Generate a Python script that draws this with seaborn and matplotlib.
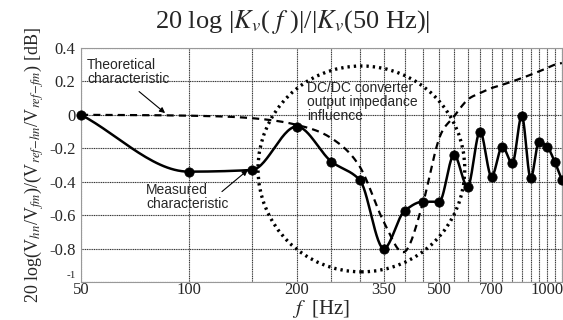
import numpy as np
import seaborn as sns
import matplotlib.pyplot as plt
import matplotlib.transforms as mtransforms
from matplotlib.patches import Ellipse

sns.set_style("white")
plt.rcParams["font.family"] = ["Liberation Serif", "DejaVu Serif"]
plt.rcParams["mathtext.fontset"] = "stix"
SERIF = ["Liberation Serif", "DejaVu Serif"]

# harmonic frequencies [Hz]
freq = [50, 100, 150, 200, 250, 300, 350, 400, 450, 500, 550, 600, 650, 700,
        750, 800, 850, 900, 950, 1000, 1050, 1100]
measured = [0, -0.34, -0.33, -0.07, -0.28, -0.39, -0.80, -0.575, -0.52, -0.52,
            -0.24, -0.43, -0.10, -0.37, -0.19, -0.29, -0.005, -0.38, -0.16,
            -0.19, -0.28, -0.39]
theoretical = [0, -0.005, -0.02, -0.06, -0.14, -0.31, -0.64, -0.82, -0.53,
               -0.14, -0.01, 0.09, 0.13, 0.16, 0.18, 0.20, 0.22, 0.24, 0.26,
               0.28, 0.30, 0.31]
grid_freq = list(range(50, 1101, 50))
xtick_labels = {50: "50", 100: "100", 200: "200", 350: "350", 500: "500",
                700: "700", 1000: "1000"}
yticks = [-1, -0.8, -0.6, -0.4, -0.2, 0, 0.2, 0.4]
ytick_labels = ["-1", "-0.8", "-0.6", "-0.4", "-0.2", "0", "0.2", "0.4"]


def smooth(x, y, n=30, monotone=False):
    # cubic hermite in log-x (catmull-rom slopes, or pchip-style slopes)
    lx = np.log(np.asarray(x, float))
    y = np.asarray(y, float)
    h = np.diff(lx)
    d = np.diff(y) / h
    m = np.zeros_like(y)
    if monotone:
        for i in range(1, len(y) - 1):
            if d[i - 1] * d[i] > 0:
                w1 = 2 * h[i] + h[i - 1]
                w2 = h[i] + 2 * h[i - 1]
                m[i] = (w1 + w2) / (w1 / d[i - 1] + w2 / d[i])
    else:
        m[1:-1] = (y[2:] - y[:-2]) / (lx[2:] - lx[:-2])
    m[0], m[-1] = d[0], d[-1]
    xs, ys = [], []
    t = np.linspace(0, 1, n, endpoint=False)
    for i in range(len(y) - 1):
        h00 = 2 * t**3 - 3 * t**2 + 1
        h10 = t**3 - 2 * t**2 + t
        h01 = -2 * t**3 + 3 * t**2
        h11 = t**3 - t**2
        xs.append(lx[i] + t * h[i])
        ys.append(h00 * y[i] + h10 * h[i] * m[i] + h01 * y[i + 1]
                  + h11 * h[i] * m[i + 1])
    xs.append([lx[-1]])
    ys.append([y[-1]])
    return np.exp(np.concatenate(xs)), np.concatenate(ys)


fig = plt.figure(figsize=(5.63, 3.2), dpi=100)
ax = fig.add_axes([0.144, 0.119, 0.854, 0.731])

tx, ty = smooth(freq, theoretical)
sns.lineplot(x=tx, y=ty, ax=ax, color="k", lw=1.6, sort=False, estimator=None,
             linestyle=(0, (3.2, 2.3)))
mx, my = smooth(freq, measured, monotone=True)
sns.lineplot(x=mx, y=my, ax=ax, color="k", lw=1.8, sort=False, estimator=None)
sns.scatterplot(x=freq, y=measured, ax=ax, color="k", s=45, edgecolor="k",
                zorder=5, clip_on=False)

ax.set_xscale("log")
ax.set_xlim(50, 1100)
ax.set_ylim(-1, 0.4)
ax.xaxis.set_minor_locator(plt.NullLocator())
ax.set_xticks(grid_freq)
ax.set_xticklabels([xtick_labels.get(f, "") for f in grid_freq], fontsize=12,
                   family=SERIF)
ax.set_yticks(yticks)
ax.set_yticklabels(ytick_labels, fontsize=12, family=SERIF)
ax.tick_params(axis="x", length=0, pad=0)
ax.tick_params(axis="y", length=0, pad=4)
low = ax.get_yticklabels()[0]
low.set_fontsize(8)
low.set_transform(low.get_transform()
                  + mtransforms.ScaledTranslation(0, 5 / 72, fig.dpi_scale_trans))
ax.grid(True, color="0.2", lw=0.8, linestyle=(0, (1, 0.6)))
for s in ax.spines.values():
    s.set_color("0.6")
    s.set_linewidth(0.8)

ax.add_patch(Ellipse((0.583, 0.483), 0.43, 0.88, transform=ax.transAxes,
                     fill=False, color="k", lw=2.4, linestyle=(0, (0.7, 1.2))))

txt = dict(family=["Liberation Sans", "DejaVu Sans"], fontsize=10,
           va="top", ha="left", linespacing=1.0)
ax.text(52, 0.34, "Theoretical\ncharacteristic", **txt)
ax.annotate("", xy=(87, 0.0), xytext=(71.6, 0.15),
            arrowprops=dict(arrowstyle="-|>", color="k", lw=0.8,
                            mutation_scale=8))
ax.text(76, -0.41, "Measured\ncharacteristic", **txt)
ax.annotate("", xy=(148, -0.32), xytext=(122, -0.47),
            arrowprops=dict(arrowstyle="-|>", color="k", lw=0.8,
                            mutation_scale=8))
ax.text(214, 0.20, "DC/DC converter\noutput impedance\ninfluence", **txt)

fig.text(0.52, 0.93, r"20 log |$K_v$( $f$ )|/|$K_v$(50 Hz)|", fontsize=19,
         ha="center", va="center")
ax.set_xlabel(r"$f$  [Hz]", fontsize=15, labelpad=0)
ax.set_ylabel(r"20 log(V$_{hn}$/V$_{fm}$)/(V$_{ref\!-\!hn}$/V$_{ref\!-\!fm}$) [dB]",
              fontsize=13, labelpad=2)

fig.savefig("out.png", dpi=100)
